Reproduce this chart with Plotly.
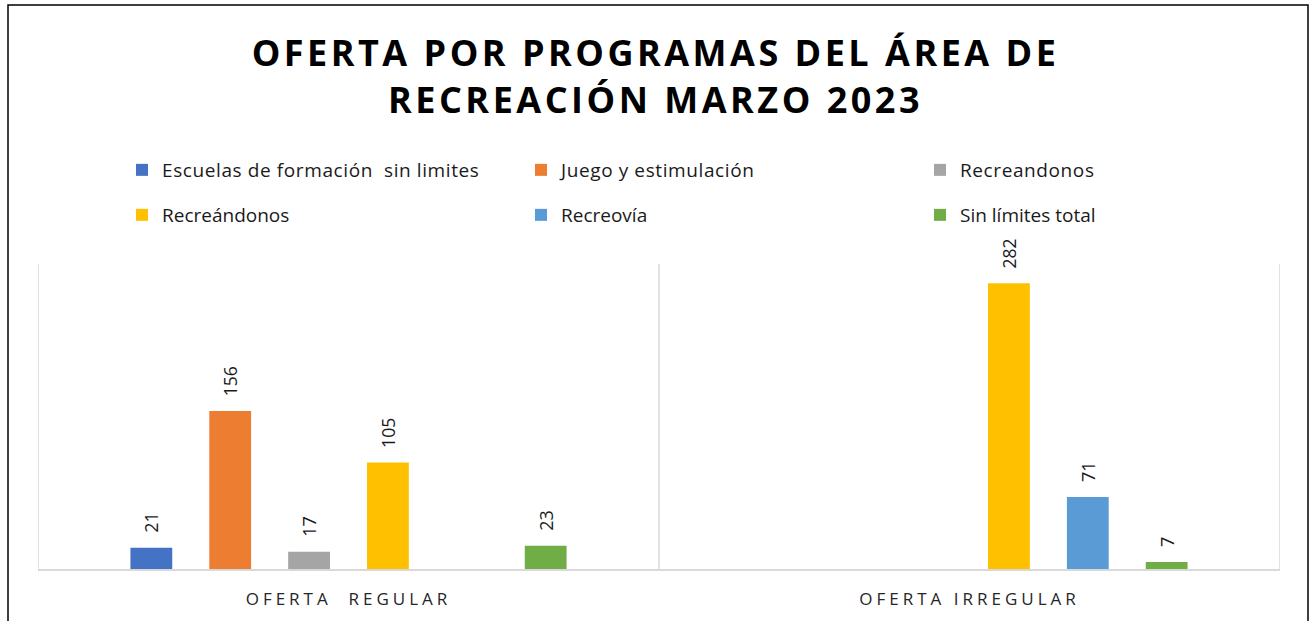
import plotly.graph_objects as go

# data
categories = ["OFERTA  REGULAR", "OFERTA IRREGULAR"]
series_names = [
    "Escuelas de formación  sin limites",
    "Juego y estimulación",
    "Recreandonos",
    "Recreándonos",
    "Recreovía",
    "Sin límites total",
]
escuelas = [21, None]
juego = [156, None]
recreandonos_gris = [17, None]
recreandonos = [105, 282]
recreovia = [None, 71]
sin_limites = [23, 7]

series_values = [escuelas, juego, recreandonos_gris, recreandonos, recreovia, sin_limites]
colors = ["#4472C4", "#ED7D31", "#A5A5A5", "#FFC000", "#5B9BD5", "#70AD47"]

W, H = 1311, 621
L, R, T, B = 38, 1280, 264, 569  # plot area in pixels


def px_x(px):
    return (px - L) / (R - L)


def px_y(py):
    return (B - py) / (B - T)


fig = go.Figure()
for i, (name, vals, col) in enumerate(zip(series_names, series_values, colors)):
    fig.add_trace(go.Bar(
        x=categories, y=vals, name=name,
        marker=dict(color=col, line=dict(width=0)),
        # leading en/thin space keeps the rotated label clear of the bar, as in Excel
        text=[("" if v is None else "\u2002\u2009" + str(v)) for v in vals],
        textposition="outside", textangle=-90,
        textfont=dict(family="Open Sans", size=18, color="#1a1a1a"),
        cliponaxis=False,
        legend="legend" if i < 3 else "legend2",
    ))

shapes = []
# vertical separators between categories
for xv in [-0.5, 0.5, 1.5]:
    shapes.append(dict(type="line", xref="x", yref="paper", x0=xv, x1=xv, y0=0, y1=1,
                       line=dict(color="#D9D9D9", width=1.5)))
# chart frame
shapes.append(dict(type="rect", xref="paper", yref="paper",
                   x0=px_x(8), x1=px_x(1308), y0=px_y(700), y1=px_y(5),
                   line=dict(color="black", width=1.5)))

legend_style = dict(
    orientation="h", xref="container", yref="container",
    xanchor="left", yanchor="middle",
    entrywidth=354, entrywidthmode="pixels",
    font=dict(family="Open Sans", size=19, color="#1a1a1a"),
    bgcolor="rgba(0,0,0,0)", itemclick=False,
)

fig.update_layout(
    width=W, height=H,
    margin=dict(l=L, r=W - R, t=T, b=H - B),
    paper_bgcolor="white", plot_bgcolor="white",
    title=dict(
        text="OFERTA POR PROGRAMAS DEL ÁREA DE<br>RECREACIÓN MARZO 2023",
        x=0.5, xanchor="center", xref="container",
        y=1 - 66 / H, yanchor="top", yref="container",
        font=dict(family="Open Sans", size=36, color="black", weight="bold"),
    ),
    barmode="group", bargap=0.238, bargroupgap=0.47,
    showlegend=True,
    legend=dict(legend_style, x=122 / W, y=1 - 170 / H),
    legend2=dict(legend_style, x=122 / W, y=1 - 215 / H),
    xaxis=dict(
        showgrid=False, showline=True, linecolor="#D9D9D9", linewidth=1.5,
        ticks="", ticklabelstandoff=14,
        tickfont=dict(family="Open Sans", size=17, color="#262626"),
        range=[-0.5, 1.5],
    ),
    yaxis=dict(range=[0, 301], visible=False, showgrid=False, zeroline=False),
    shapes=shapes,
)

# page without body margin, plus the letter spacing seen in the title and axis labels
post = """
document.body.style.margin = '0';
var gd = document.getElementById('{plot_id}');
function spacing() {
  gd.querySelectorAll('.gtitle').forEach(function (e) { e.style.letterSpacing = '3.5px'; });
  gd.querySelectorAll('.xtick text').forEach(function (e) { e.style.letterSpacing = '4px'; });
  gd.querySelectorAll('.legendtext').forEach(function (e) { e.style.letterSpacing = '0.6px'; });
}
spacing();
gd.on('plotly_afterplot', spacing);
"""

fig.write_html("out.html", post_script=post, config={"displayModeBar": False})
